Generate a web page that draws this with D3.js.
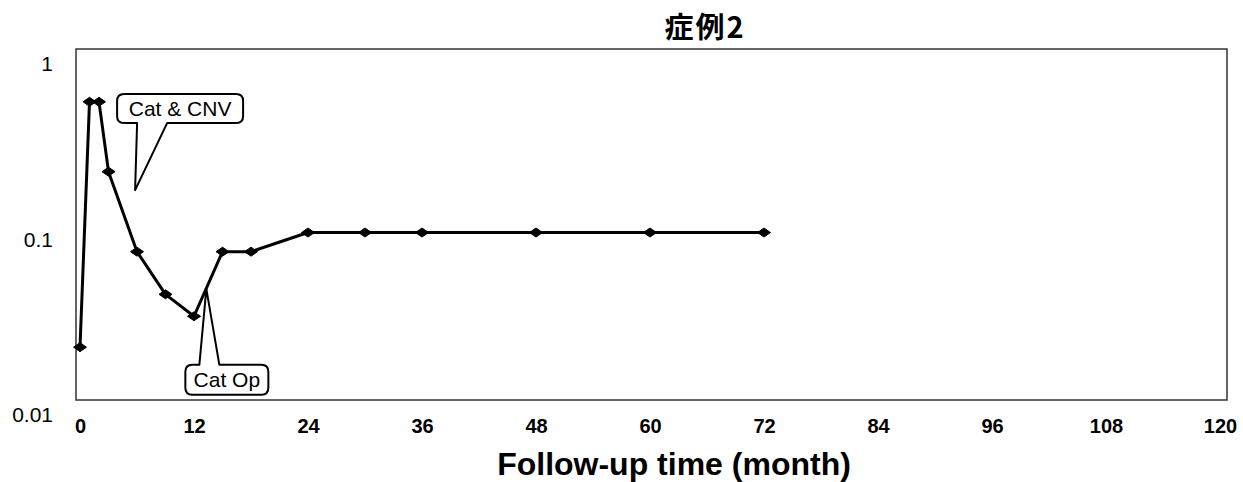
<!DOCTYPE html>
<html>
<head>
<meta charset="utf-8">
<script src="https://cdn.jsdelivr.net/npm/d3@7"></script>
<style>
  body { margin: 0; background: #fff; }
  svg { display: block; }
  .tick text { fill: #000; }
</style>
</head>
<body>
<script>
// follow-up visits (month) and measured values
var months = [0, 1, 2, 3, 6, 9, 12, 15, 18, 24, 30, 36, 48, 60, 72];
var acuity = [0.02, 0.5, 0.5, 0.2, 0.07, 0.04, 0.03, 0.07, 0.07, 0.09, 0.09, 0.09, 0.09, 0.09, 0.09];

var xTicks = [0, 12, 24, 36, 48, 60, 72, 84, 96, 108, 120];
var yTicks = [0.01, 0.1, 1];
var yTickLabels = ["0.01", "0.1", "1"];

var chartTitle = "症例2";
var xTitle = "Follow-up time (month)";

// callouts: text and the point on the curve they point at
var noteText = ["Cat & CNV", "Cat Op"];
var noteMonth = [5.8, 13.3];
var noteValue = [0.157, 0.043];

var W = 1243, H = 482;
var svg = d3.select("body").append("svg").attr("width", W).attr("height", H);

var x = d3.scaleLinear().domain([0, 120]).range([80, 1220]);
var y = d3.scaleLog().domain([0.01, 1]).range([400, 49]);

// plot frame
svg.append("rect")
  .attr("x", x(0) - 4).attr("y", y(1))
  .attr("width", x(120) + 7 - (x(0) - 4)).attr("height", y(0.01) - y(1))
  .attr("fill", "#fff").attr("stroke", "#333").attr("stroke-width", 1.5);

// x axis
var xAxis = svg.append("g")
  .attr("transform", "translate(0," + y(0.01) + ")")
  .call(d3.axisBottom(x).tickValues(xTicks).tickSize(0).tickPadding(19));
xAxis.select(".domain").remove();
xAxis.selectAll("text")
  .style("font-family", "'Liberation Sans', Arial, sans-serif")
  .style("font-size", "20px").style("font-weight", "bold");

// y axis (log)
var yAxis = svg.append("g")
  .attr("transform", "translate(" + 53 + ",0)")
  .call(d3.axisLeft(y).tickValues(yTicks).tickSize(0).tickPadding(0)
    .tickFormat(function(d, i) { return yTickLabels[i]; }));
yAxis.select(".domain").remove();
yAxis.selectAll("text")
  .attr("dy", "0.32em")
  .attr("y", 15)
  .style("font-family", "'Liberation Sans', Arial, sans-serif")
  .style("font-size", "21px");

// data line + markers
var pts = months.map(function(m, i) { return [m, acuity[i]]; });
var line = d3.line().x(function(d) { return x(d[0]); }).y(function(d) { return y(d[1]); });

svg.append("path")
  .datum(pts)
  .attr("d", line)
  .attr("fill", "none").attr("stroke", "#000").attr("stroke-width", 3)
  .attr("stroke-linejoin", "round");

svg.selectAll("path.mark").data(pts).enter().append("path")
  .attr("class", "mark")
  .attr("d", "M-6.5,0L0,-4.5L6.5,0L0,4.5Z")
  .attr("transform", function(d) { return "translate(" + x(d[0]) + "," + y(d[1]) + ")"; })
  .attr("fill", "#000").attr("stroke", "#000").attr("stroke-width", 1);

// rounded box with a pointer on top or bottom edge
function calloutPath(x0, y0, w, h, r, side, b0, b1, tx, ty) {
  var x1 = x0 + w, y1 = y0 + h;
  var p = d3.path();
  p.moveTo(x0 + r, y0);
  if (side === "top") { p.lineTo(b0, y0); p.lineTo(tx, ty); p.lineTo(b1, y0); }
  p.lineTo(x1 - r, y0);
  p.quadraticCurveTo(x1, y0, x1, y0 + r);
  p.lineTo(x1, y1 - r);
  p.quadraticCurveTo(x1, y1, x1 - r, y1);
  if (side === "bottom") { p.lineTo(b1, y1); p.lineTo(tx, ty); p.lineTo(b0, y1); }
  p.lineTo(x0 + r, y1);
  p.quadraticCurveTo(x0, y1, x0, y1 - r);
  p.lineTo(x0, y0 + r);
  p.quadraticCurveTo(x0, y0, x0 + r, y0);
  p.closePath();
  return p.toString();
}

var boxes = [
  { dx: -18, dy: -96, w: 126, h: 29, side: "bottom", b0: 20, b1: 50 },
  { dx: -21, dy: 76, w: 83, h: 30, side: "top", b0: 14, b1: 34 }
];

noteText.forEach(function(t, i) {
  var tx = x(noteMonth[i]), ty = y(noteValue[i]);
  var b = boxes[i];
  var bx = tx + b.dx, by = ty + b.dy;
  svg.append("path")
    .attr("d", calloutPath(bx, by, b.w, b.h, 7, b.side, bx + b.b0, bx + b.b1, tx, ty))
    .attr("fill", "#fff").attr("stroke", "#000").attr("stroke-width", 2)
    .attr("stroke-linejoin", "round");
  svg.append("text")
    .attr("x", bx + b.w / 2).attr("y", by + b.h / 2)
    .attr("dy", "0.36em")
    .attr("text-anchor", "middle")
    .style("font-family", "'Liberation Sans', Arial, sans-serif")
    .style("font-size", "21px")
    .text(t);
});

// titles
svg.append("text")
  .attr("x", 705).attr("y", 38)
  .attr("text-anchor", "middle")
  .style("font-family", "'Noto Sans CJK JP', sans-serif")
  .style("font-size", "29px").style("font-weight", "bold")
  .style("letter-spacing", "2px")
  .text(chartTitle);

svg.append("text")
  .attr("x", 674).attr("y", 475)
  .attr("text-anchor", "middle")
  .style("font-family", "'Liberation Sans', Arial, sans-serif")
  .style("font-size", "32px").style("font-weight", "bold")
  .text(xTitle);
</script>
</body>
</html>
